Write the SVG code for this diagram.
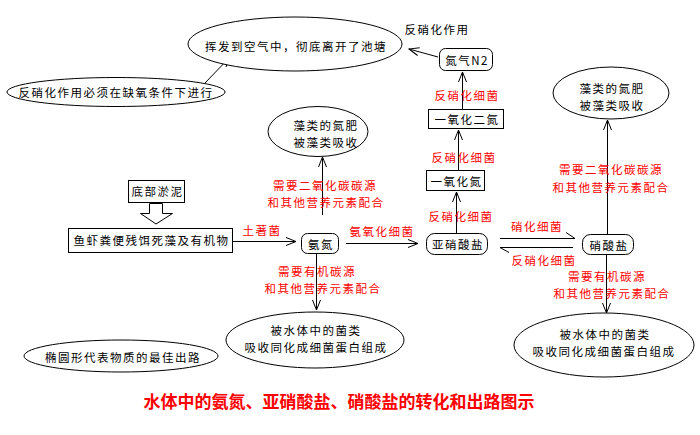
<svg xmlns="http://www.w3.org/2000/svg" width="700" height="435" viewBox="0 0 700 435">
<defs>
<marker id="arr" markerWidth="12" markerHeight="10" refX="11" refY="5" orient="auto" markerUnits="userSpaceOnUse">
<path d="M1,1 L11,5 L1,9" fill="none" stroke="#000" stroke-width="1"/>
</marker>
<style>
text{font-family:"Noto Sans CJK SC","Noto Sans",sans-serif;font-size:11.5px;letter-spacing:1.5px;text-anchor:middle;dominant-baseline:central}
.r{fill:#ff0000}
.k{fill:#000}
.s{fill:#fff;stroke:#000;stroke-width:1}
.l{fill:none;stroke:#000;stroke-width:1}
.t{font-size:17px;letter-spacing:0;font-weight:bold;fill:#ff0000}
</style>
</defs>
<rect width="700" height="435" fill="#fff"/>

<g id="connectors">
<line class="l" x1="205" y1="83" x2="230" y2="57" marker-end="url(#arr)"/>
<line class="l" x1="438" y1="57" x2="409" y2="49" marker-end="url(#arr)"/>
<line class="l" x1="462.5" y1="109" x2="462.5" y2="72" marker-end="url(#arr)"/>
<line class="l" x1="458.5" y1="170" x2="458.5" y2="130" marker-end="url(#arr)"/>
<line class="l" x1="456.5" y1="233" x2="456.5" y2="192" marker-end="url(#arr)"/>
<line class="l" x1="322.5" y1="215" x2="322.5" y2="157" marker-end="url(#arr)"/>
<line class="l" x1="232" y1="241.5" x2="296" y2="241.5" marker-end="url(#arr)"/>
<line class="l" x1="346" y1="243.5" x2="418" y2="243.5" marker-end="url(#arr)"/>
<line class="l" x1="316.5" y1="253" x2="316.5" y2="310" marker-end="url(#arr)"/>
<path class="l" d="M500,238.5 L575,238.5 L566,232.5"/>
<path class="l" d="M573,247.5 L500,247.5 L509,252.5"/>
<line class="l" x1="607.5" y1="234" x2="607.5" y2="120" marker-end="url(#arr)"/>
<line class="l" x1="606.5" y1="255" x2="606.5" y2="313" marker-end="url(#arr)"/>
<path class="l" d="M149.5,203.5 L162.5,203.5 L162.5,213.5 L172.5,213.5 L156,224 L140.5,213.5 L149.5,213.5 Z"/>
</g>

<g id="air">
<ellipse class="s" cx="295" cy="44" rx="107" ry="27"/>
<text class="k" x="296" y="46">挥发到空气中，彻底离开了池塘</text>
</g>
<g id="anoxic">
<ellipse class="s" cx="116" cy="92" rx="109" ry="14.5"/>
<text class="k" x="116" y="92">反硝化作用必须在缺氧条件下进行</text>
</g>
<g id="denit-label">
<text class="k" x="437" y="28.5">反硝化作用</text>
</g>
<g id="n2">
<rect class="s" x="439.5" y="48.5" width="53" height="22" rx="6"/>
<text class="k" x="467" y="59.5">氮气N2</text>
</g>
<g id="n2o">
<rect class="s" x="428.5" y="109.5" width="75" height="19"/>
<text class="k" x="467" y="119">一氧化二氮</text>
</g>
<g id="no">
<rect class="s" x="426.5" y="170.5" width="58" height="20"/>
<text class="k" x="456.5" y="180.5">一氧化氮</text>
</g>
<g id="algae1">
<ellipse class="s" cx="318" cy="131.5" rx="50" ry="25"/>
<text class="k" x="326" y="125">藻类的氮肥</text>
<text class="k" x="326" y="142">被藻类吸收</text>
</g>
<g id="sludge">
<rect class="s" x="128.5" y="180.5" width="56" height="22"/>
<text class="k" x="157.5" y="191">底部淤泥</text>
</g>
<g id="organic">
<rect class="s" x="68.5" y="228.5" width="164" height="24"/>
<text class="k" x="151.5" y="240">鱼虾粪便残饵死藻及有机物</text>
</g>
<g id="nh3">
<rect class="s" x="301.5" y="233.5" width="37" height="20" rx="6"/>
<text class="k" x="321" y="243.5">氨氮</text>
</g>
<g id="no2">
<rect class="s" x="426.5" y="233.5" width="61" height="21" rx="8"/>
<text class="k" x="458" y="244">亚硝酸盐</text>
</g>
<g id="no3">
<rect class="s" x="582.5" y="234.5" width="51" height="20" rx="8"/>
<text class="k" x="609" y="244.5">硝酸盐</text>
</g>
<g id="algae2">
<ellipse class="s" cx="611" cy="93" rx="58" ry="26"/>
<text class="k" x="612" y="88">藻类的氮肥</text>
<text class="k" x="612" y="105">被藻类吸收</text>
</g>
<g id="bact1">
<ellipse class="s" cx="315" cy="340" rx="89" ry="28"/>
<text class="k" x="316" y="330">被水体中的菌类</text>
<text class="k" x="316" y="347">吸收同化成细菌蛋白组成</text>
</g>
<g id="bact2">
<ellipse class="s" cx="604" cy="345" rx="90" ry="32"/>
<text class="k" x="605" y="334">被水体中的菌类</text>
<text class="k" x="604" y="351">吸收同化成细菌蛋白组成</text>
</g>
<g id="legend">
<ellipse class="s" cx="121" cy="356" rx="97" ry="16"/>
<text class="k" x="123" y="357">椭圆形代表物质的最佳出路</text>
</g>

<g id="labels">
<text class="r" x="467" y="95">反硝化细菌</text>
<text class="r" x="464" y="157">反硝化细菌</text>
<text class="r" x="461" y="216">反硝化细菌</text>
<text class="r" x="325" y="185">需要二氧化碳碳源</text>
<text class="r" x="326" y="202">和其他营养元素配合</text>
<text class="r" x="262" y="230">土著菌</text>
<text class="r" x="382" y="231">氨氧化细菌</text>
<text class="r" x="317" y="271">需要有机碳源</text>
<text class="r" x="323" y="288">和其他营养元素配合</text>
<text class="r" x="537" y="226">硝化细菌</text>
<text class="r" x="544" y="260">反硝化细菌</text>
<text class="r" x="611" y="169">需要二氧化碳碳源</text>
<text class="r" x="611" y="187">和其他营养元素配合</text>
<text class="r" x="607" y="276">需要有机碳源</text>
<text class="r" x="612" y="293">和其他营养元素配合</text>
</g>

<text class="t" x="339" y="400">水体中的氨氮、亚硝酸盐、硝酸盐的转化和出路图示</text>
</svg>
